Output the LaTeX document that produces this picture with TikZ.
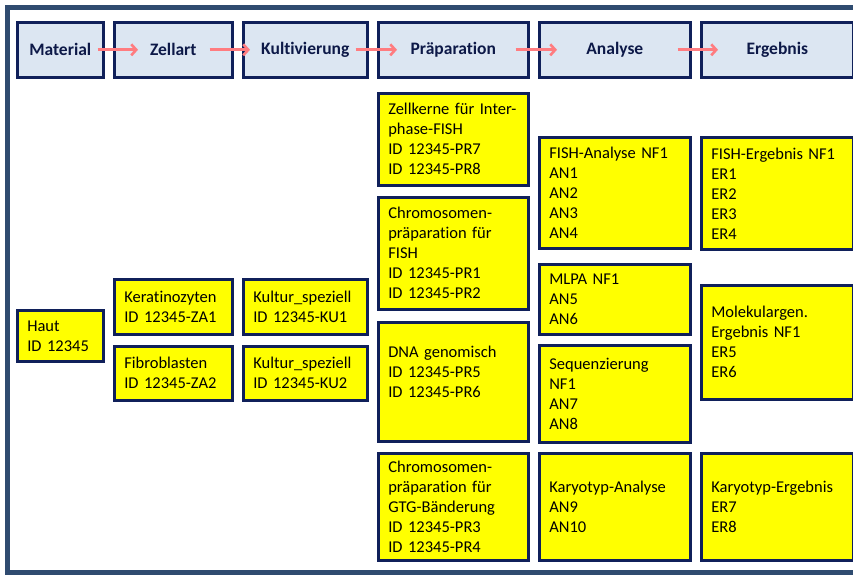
\documentclass[tikz,border=0pt]{standalone}
\usepackage{fontspec}
\setmainfont{Carlito}[Ligatures=NoCommon]
\usetikzlibrary{arrows.meta,calc}

\definecolor{rahmen}{HTML}{2F4B70}
\definecolor{navy}{HTML}{10205A}
\definecolor{kopffill}{HTML}{DCE6F2}
\definecolor{pfeilrot}{HTML}{FF7C80}
\definecolor{gelb}{HTML}{FFFF00}

\tikzset{
  kopf/.style={draw=navy, line width=2.6pt, fill=kopffill, anchor=north west,
    minimum height=55, inner sep=0pt, text=navy!80!black,
    font=\fontsize{17.5}{21}\selectfont\bfseries},
  probe/.style={draw=navy, line width=2.6pt, fill=gelb, anchor=north west,
    align=left, inner xsep=10pt, inner ysep=2pt,
    font=\fontsize{16.5}{20}\selectfont},
  pfeil/.style={draw=pfeilrot, line width=2.6pt, -{Straight Barb[length=5pt,width=11pt]}}
}

\begin{document}
\begin{tikzpicture}[x=1pt,y=-1pt]
  \useasboundingbox (0,0) rectangle (853,575);

  % box with its top left corner, width and height
  \newcommand{\kasten}[6]{%
    \pgfmathsetmacro{\tw}{#4-20}%
    \node[probe, minimum width=#4, minimum height=#5, text width=\tw pt] (#1) at (#2,#3) {#6};}

  % Frame (open on the right)
  \draw[rahmen, line width=5pt] (853,8) -- (7,8) -- (7,572) -- (853,572);

  % Header
  \node[kopf, minimum width=86]  (mat)  at (16,21)  {Material};
  \node[kopf, minimum width=118] (zell) at (113,21) {Zellart};
  \node[kopf, minimum width=124] (kult) at (242,21) {Kultivierung};
  \node[kopf, minimum width=150] (prae) at (377,21) {Präparation};
  \node[kopf, minimum width=151] (ana)  at (538,21) {Analyse};
  \node[kopf, minimum width=152] (erg)  at (700,21) {Ergebnis};

  \foreach \a/\b/\s/\e in {mat/zell/7/25, zell/kult/24/8, kult/prae/13/20,
                           prae/ana/14/19, ana/erg/14/18}
    \draw[pfeil] ([xshift=-\s]\a.east) -- ([xshift=\e]\b.west);

  % Material, Zellart, Kultivierung
  \kasten{haut}{16}{309}{86}{51}{Haut\\ID 12345}
  \kasten{ker}{113}{278}{118}{55}{Keratinozyten\\ID 12345-ZA1}
  \kasten{fib}{113}{345}{118}{54}{Fibroblasten\\ID 12345-ZA2}
  \kasten{kuA}{242}{278}{124}{55}{Kultur\_speziell\\ID 12345-KU1}
  \kasten{kuB}{242}{345}{124}{54}{Kultur\_speziell\\ID 12345-KU2}

  % Praeparation
  \kasten{zk}{377}{92}{150}{92}{Zellkerne für Inter-\\phase-FISH\\ID 12345-PR7\\ID 12345-PR8}
  \kasten{chf}{377}{196}{150}{112}{Chromosomen-\\präparation für\\FISH\\ID 12345-PR1\\ID 12345-PR2}
  \kasten{dna}{377}{321}{150}{119}{DNA genomisch\\ID 12345-PR5\\ID 12345-PR6\\\mbox{}}
  \kasten{chg}{377}{452}{150}{107}{Chromosomen-\\präparation für\\GTG-Bänderung\\ID 12345-PR3\\ID 12345-PR4}

  % Analyse
  \kasten{fa}{538}{136}{151}{111}{FISH-Analyse NF1\\AN1\\AN2\\AN3\\AN4}
  \kasten{mlpa}{538}{263}{151}{70}{MLPA NF1\\AN5\\AN6}
  \kasten{seq}{538}{344}{151}{97}{Sequenzierung\\NF1\\AN7\\AN8}
  \kasten{ka}{538}{452}{151}{107}{Karyotyp-Analyse\\AN9\\AN10}

  % Ergebnis
  \kasten{fe}{700}{136}{152}{112}{FISH-Ergebnis NF1\\ER1\\ER2\\ER3\\ER4}
  \kasten{mol}{700}{284}{152}{114}{Molekulargen.\\Ergebnis NF1\\ER5\\ER6}
  \kasten{ke}{700}{452}{152}{107}{Karyotyp-Ergebnis\\ER7\\ER8}
\end{tikzpicture}
\end{document}
